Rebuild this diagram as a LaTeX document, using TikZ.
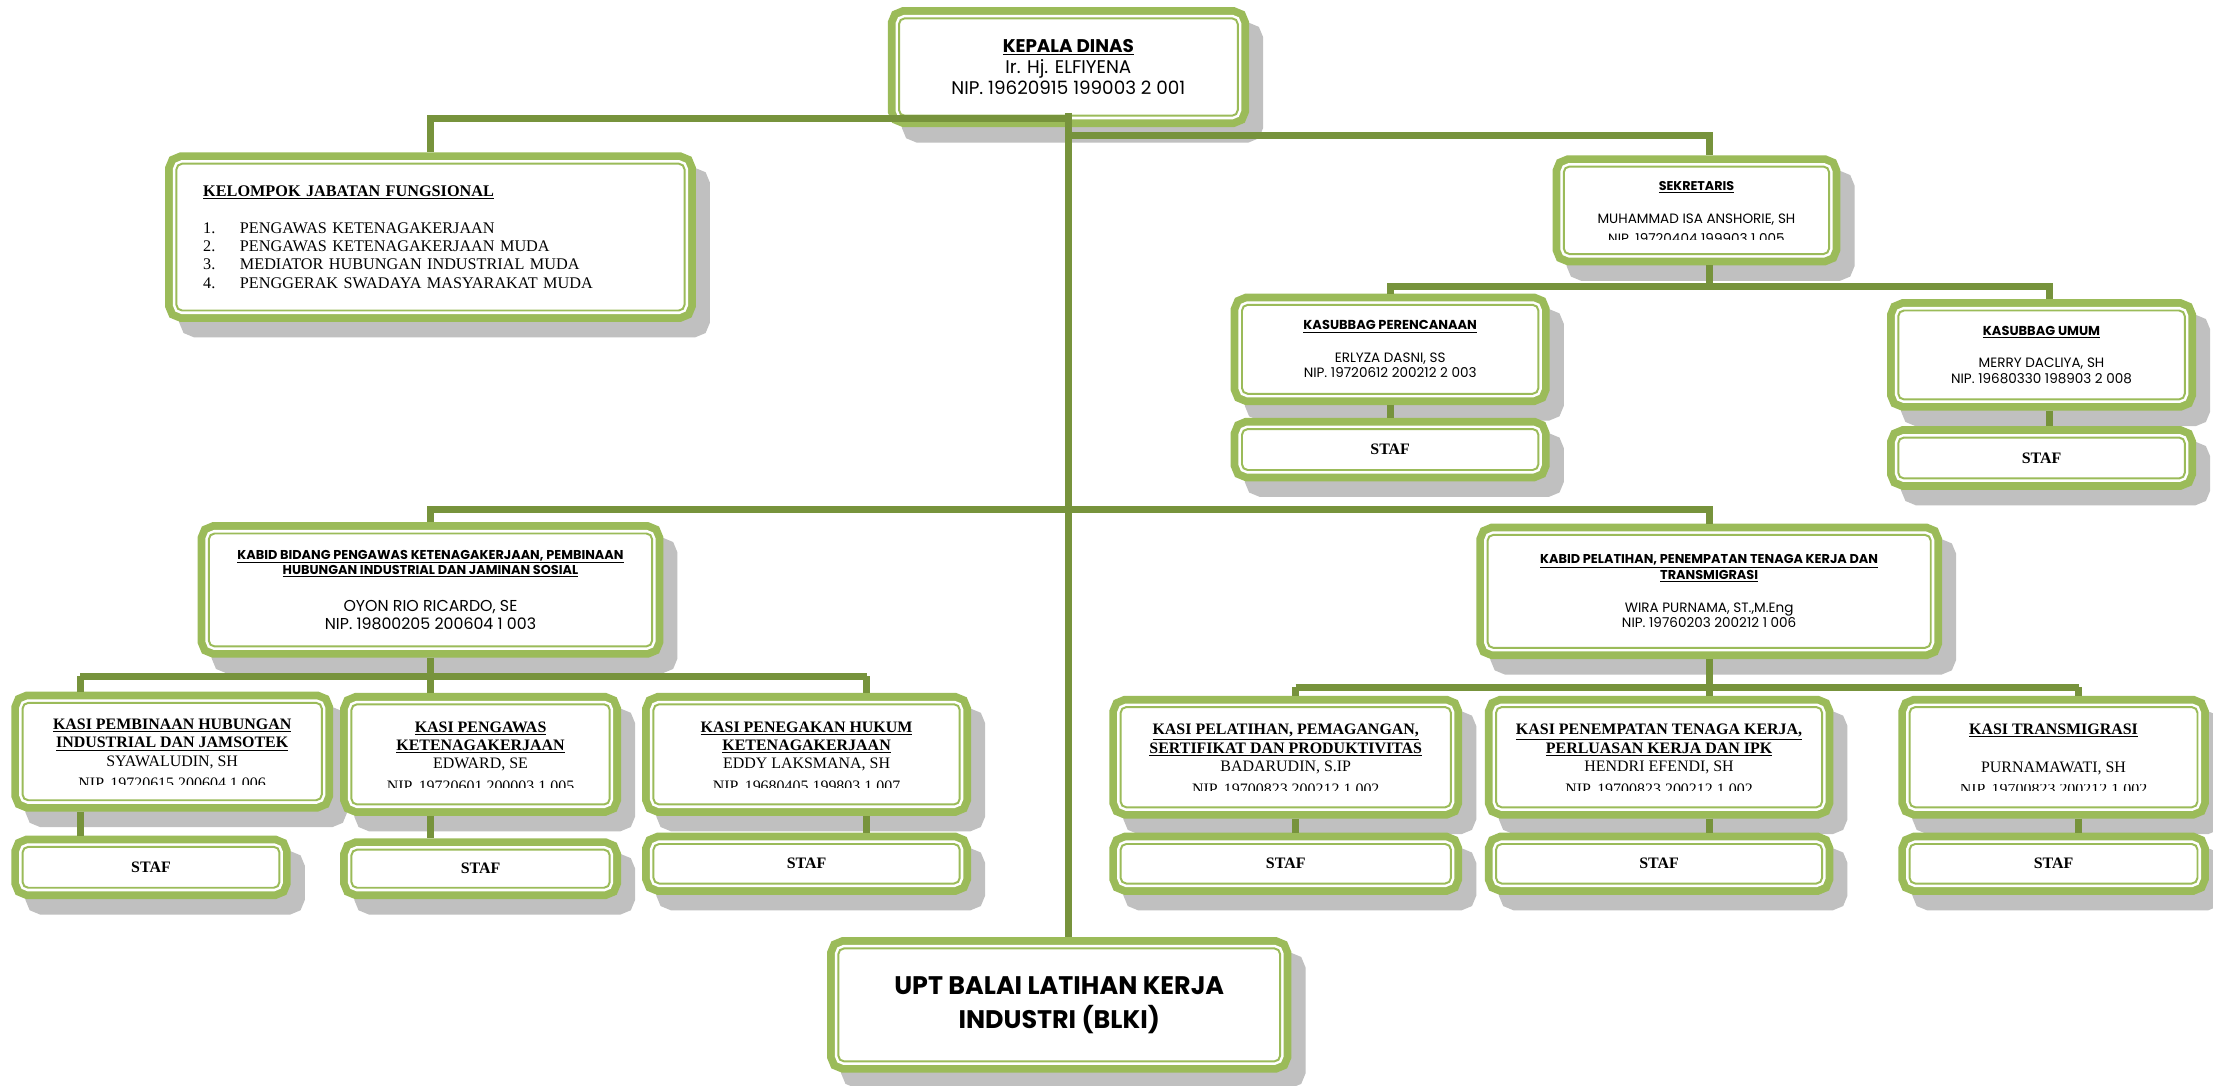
\documentclass[tikz,border=0pt]{standalone}
\usepackage{fontspec}
\usepackage{trimclip}
\setmainfont{Liberation Serif}
\newfontfamily\gothic{Poppins}
\usetikzlibrary{shadows,calc}

\definecolor{boxgreen}{RGB}{155,187,89}
\definecolor{linkgreen}{RGB}{119,147,60}
\definecolor{shadegray}{RGB}{192,192,192}

\tikzset{
  orgbox/.style={
    general shadow={fill=shadegray, draw=shadegray, line width=16pt, shadow xshift=10pt, shadow yshift=-11pt},
    preaction={draw=boxgreen, line width=16pt},
    preaction={draw=white, line width=5pt},
    draw=boxgreen, fill=white, line width=1.4pt, rounded corners=4pt,
    inner sep=0pt, outer sep=8pt, align=center},
  dims/.style 2 args={minimum width=#1, minimum height=#2},
  gfont/.style 2 args={font=\gothic\fontsize{#1}{#2}\selectfont},
  tfont/.style 2 args={font=\fontsize{#1}{#2}\selectfont},
  link/.style={draw=linkgreen, line width=5pt},
}
% judul jabatan kecil
\newcommand\jab[2]{\fontsize{#1}{11}\selectfont\textbf{\underline{#2}}}
% baris NIP yang terpotong bingkai teks
\newcommand\cutline[1]{\clipbox{0pt 3pt 0pt 0pt}{#1}}

\begin{document}
\begin{tikzpicture}[x=1pt,y=-1pt]
\path[use as bounding box, fill=white] (0,0) rectangle (1568,769);

% pimpinan
\node[orgbox, dims={240pt}{69pt}, gfont={13}{15}] (kepala) at (757,47.5)
  {\textbf{\underline{KEPALA DINAS}}\\Ir. Hj. ELFIYENA\\NIP. 19620915 199003 2 001};

\node[orgbox, dims={360pt}{104pt}, tfont={11.5}{13}, align=left, text width=322pt, inner xsep=19pt] (kelompok) at (305,168)
  {\textbf{\underline{KELOMPOK JABATAN FUNGSIONAL}}\\[13pt]
   \makebox[26pt][l]{1.}PENGAWAS KETENAGAKERJAAN\\
   \makebox[26pt][l]{2.}PENGAWAS KETENAGAKERJAAN MUDA\\
   \makebox[26pt][l]{3.}MEDIATOR HUBUNGAN INDUSTRIAL MUDA\\
   \makebox[26pt][l]{4.}PENGGERAK SWADAYA MASYARAKAT MUDA};

% sekretariat
\node[orgbox, dims={188pt}{62pt}, gfont={9.6}{11}] (sekretaris) at (1202,149)
  {\jab{9}{SEKRETARIS}\\[12.5pt]MUHAMMAD ISA ANSHORIE, SH\\\cutline{NIP. 19720404 199903 1 005}};
\node[orgbox, dims={210pt}{63pt}, gfont={9.6}{11}] (perenc) at (985,247.5)
  {\jab{9.2}{KASUBBAG PERENCANAAN}\\[12pt]ERLYZA DASNI, SS\\NIP. 19720612 200212 2 003};
\node[orgbox, dims={210pt}{29pt}, tfont={11.3}{13}] (stafp) at (985,318.5) {\textbf{STAF}};
\node[orgbox, dims={203pt}{63pt}, gfont={9.6}{11}] (umum) at (1446.5,251.5)
  {\jab{9.2}{KASUBBAG UMUM}\\[12pt]MERRY DACLIYA, SH\\NIP. 19680330 198903 2 008};
\node[orgbox, dims={203pt}{29pt}, tfont={11.3}{13}] (stafu) at (1446.5,324.5) {\textbf{STAF}};

% bidang
\node[orgbox, dims={314pt}{80pt}, gfont={11.2}{11}] (kabidl) at (305,418)
  {\jab{9.1}{KABID BIDANG PENGAWAS KETENAGAKERJAAN, PEMBINAAN}\\
   \jab{9.1}{HUBUNGAN INDUSTRIAL DAN JAMINAN SOSIAL}\\[15pt]
   OYON RIO RICARDO, SE\\[2pt]NIP. 19800205 200604 1 003};
\node[orgbox, dims={314pt}{80pt}, gfont={9.6}{11}] (kabidr) at (1211,419)
  {\jab{9.1}{KABID PELATIHAN, PENEMPATAN TENAGA KERJA DAN}\\
   \jab{9.1}{TRANSMIGRASI}\\[12.5pt]
   WIRA PURNAMA, ST.,M.Eng\\NIP. 19760203 200212 1 006};

% seksi
\node[orgbox, dims={212pt}{69pt}, tfont={11.3}{13}] (kasia) at (122,532.5)
  {\textbf{\underline{KASI PEMBINAAN HUBUNGAN}}\\\textbf{\underline{INDUSTRIAL DAN JAMSOTEK}}\\SYAWALUDIN, SH\\\cutline{NIP. 19720615 200604 1 006}};
\node[orgbox, dims={183pt}{71pt}, tfont={11.3}{13}] (kasib) at (340.5,534.5)
  {\textbf{\underline{KASI PENGAWAS}}\\\textbf{\underline{KETENAGAKERJAAN}}\\EDWARD, SE\\\cutline{NIP. 19720601 200003 1 005}};
\node[orgbox, dims={217pt}{71pt}, tfont={11.3}{13}] (kasic) at (571.5,534.5)
  {\textbf{\underline{KASI PENEGAKAN HUKUM}}\\\textbf{\underline{KETENAGAKERJAAN}}\\EDDY LAKSMANA, SH\\\cutline{NIP. 19680405 199803 1 007}};
\node[orgbox, dims={234pt}{71pt}, tfont={11.3}{13}] (kasid) at (911,536.5)
  {\textbf{\underline{KASI PELATIHAN, PEMAGANGAN,}}\\\textbf{\underline{SERTIFIKAT DAN PRODUKTIVITAS}}\\BADARUDIN, S.IP\\\cutline{NIP. 19700823 200212 1 002}};
\node[orgbox, dims={231pt}{71pt}, tfont={11.3}{13}] (kasie) at (1175.5,536.5)
  {\textbf{\underline{KASI PENEMPATAN TENAGA KERJA,}}\\\textbf{\underline{PERLUASAN KERJA DAN IPK}}\\HENDRI EFENDI, SH\\\cutline{NIP. 19700823 200212 1 002}};
\node[orgbox, dims={204pt}{71pt}, tfont={11.3}{13}] (kasif) at (1455,536.5)
  {\textbf{\underline{KASI TRANSMIGRASI}}\\[14pt]PURNAMAWATI, SH\\\cutline{NIP. 19700823 200212 1 002}};

\node[orgbox, dims={182pt}{29pt}, tfont={11.3}{13}] (stafa) at (107,614.5) {\textbf{STAF}};
\node[orgbox, dims={183pt}{27pt}, tfont={11.3}{13}] (stafb) at (340.5,615.5) {\textbf{STAF}};
\node[orgbox, dims={217pt}{28pt}, tfont={11.3}{13}] (stafc) at (571.5,612) {\textbf{STAF}};
\node[orgbox, dims={234pt}{28pt}, tfont={11.3}{13}] (stafd) at (911,612) {\textbf{STAF}};
\node[orgbox, dims={231pt}{28pt}, tfont={11.3}{13}] (stafe) at (1175.5,612) {\textbf{STAF}};
\node[orgbox, dims={204pt}{28pt}, tfont={11.3}{13}] (staff) at (1455,612) {\textbf{STAF}};

% upt
\node[orgbox, dims={313pt}{80pt}, gfont={18}{24}] (upt) at (750.5,712)
  {\textbf{UPT BALAI LATIHAN KERJA}\\\textbf{INDUSTRI (BLKI)}};

% connector columns
\coordinate (colA) at (57,0);
\coordinate (colB) at (305,0);
\coordinate (colC) at (614,0);
\coordinate (colD) at (918,0);
\coordinate (colE) at (1211,0);
\coordinate (colF) at (1473,0);

% garis komando
\draw[link] ([yshift=10pt]kepala.south) -- (kepala.south |- upt.north);
\draw[link] ([yshift=6pt]kepala.south) -| (kelompok.north);
\draw[link] ([yshift=-6pt]kepala.south) -| ([xshift=9pt]sekretaris.north);
\draw[link] ([xshift=9pt]sekretaris.south) -- ++(0,15);
\draw[link] (perenc.north) -- ++(0,-5) -| ([xshift=5.5pt]umum.north);
\draw[link] (perenc.south) -- (stafp.north);
\draw[link] ([xshift=5.5pt]umum.south) -- ([xshift=5.5pt]stafu.north);
\draw[link] (kabidl.north) -- ++(0,-9) -| (kabidr.north);

\draw[link] (kabidl.south) -- ++(0,13) coordinate (bl);
\draw[link] (bl -| colA) -- (bl -| colC);
\draw[link] (kabidr.south) -- ++(0,20) coordinate (br);
\draw[link] (br -| colD) -- (br -| colF);
\foreach \k/\s/\c/\j in {kasia/stafa/colA/bl, kasib/stafb/colB/bl, kasic/stafc/colC/bl,
                         kasid/stafd/colD/br, kasie/stafe/colE/br, kasif/staff/colF/br} {
  \draw[link] (\j -| \c) -- (\k.north -| \c);
  \draw[link] (\k.south -| \c) -- (\s.north -| \c);
}

\end{tikzpicture}
\end{document}
